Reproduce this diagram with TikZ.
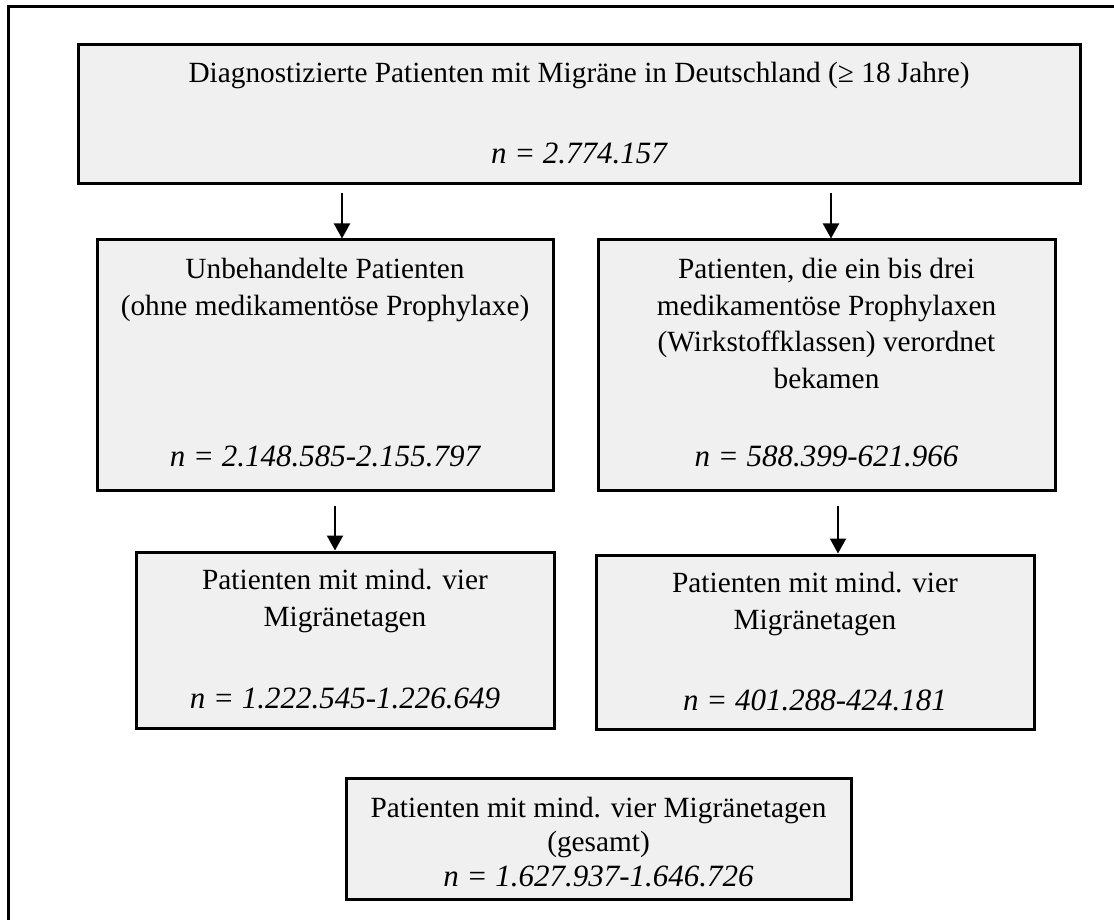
\documentclass[tikz,border=0pt]{standalone}
\usepackage{fontspec}
\setmainfont{Liberation Serif}
\usetikzlibrary{arrows.meta}
\definecolor{boxgray}{HTML}{F0F0F0}
\begin{document}
\begin{tikzpicture}[x=1pt,y=-1pt,
  box/.style={draw=black, line width=3pt, fill=boxgray, inner sep=0pt, rectangle},
  txt/.style={font=\fontsize{29.3}{36.5}\selectfont, align=center, anchor=base, inner sep=0pt},
  num/.style={font=\fontsize{31}{36}\selectfont\itshape, anchor=base, inner sep=0pt},
  arr/.style={line width=2pt, -{Triangle[width=16pt,length=15pt]}}]
\useasboundingbox (0,0) rectangle (1114,920);
\draw[line width=3pt] (1114,7) -- (8,7) -- (8,920);

% boxes
\node[box, minimum width=1002pt, minimum height=139pt] (top) at (579,114.5) {};
\node[box, minimum width=456pt, minimum height=250pt] (ml) at (325,365) {};
\node[box, minimum width=457pt, minimum height=250pt] (mr) at (826.5,365) {};
\node[box, minimum width=418pt, minimum height=176pt] (bl) at (345,640) {};
\node[box, minimum width=438pt, minimum height=174pt] (br) at (815,642) {};
\node[box, minimum width=505pt, minimum height=121pt] (bt) at (598.5,838.5) {};

% texts (base = baseline of the last line)
\node[txt] (toptxt) at (579,83) {Diagnostizierte Patienten mit Migräne in Deutschland (≥ 18 Jahre)};
\node[num] (topn) at (579,164) {n = 2.774.157};
\node[txt] (mltxt) at (325,315) {Unbehandelte Patienten\\(ohne medikamentöse Prophylaxe)};
\node[num] (mln) at (325,466) {n = 2.148.585-2.155.797};
\node[txt] (mrtxt) at (826.5,388) {Patienten, die ein bis drei\\medikamentöse Prophylaxen\\(Wirkstoffklassen) verordnet\\bekamen};
\node[num] (mrn) at (826.5,466) {n = 588.399-621.966};
\node[txt] (bltxt) at (345,626) {Patienten mit mind. vier\\Migränetagen};
\node[num] (bln) at (345,708) {n = 1.222.545-1.226.649};
\node[txt] (brtxt) at (815,629) {Patienten mit mind. vier\\Migränetagen};
\node[num] (brn) at (815,710) {n = 401.288-424.181};
\node[txt, font=\fontsize{29.3}{34}\selectfont] (bttxt) at (598.5,851) {Patienten mit mind. vier Migränetagen\\(gesamt)};
\node[num] (btn) at (598.5,886) {n = 1.627.937-1.646.726};

% arrows
\coordinate (a1) at (342,193);
\coordinate (a2) at (831,193);
\coordinate (a3) at (335,506);
\coordinate (a4) at (838,506);
\draw[arr] (a1) -- (a1 |- ml.north);
\draw[arr] (a2) -- (a2 |- mr.north);
\draw[arr] (a3) -- (a3 |- bl.north);
\draw[arr] (a4) -- (a4 |- br.north);
\end{tikzpicture}
\end{document}
